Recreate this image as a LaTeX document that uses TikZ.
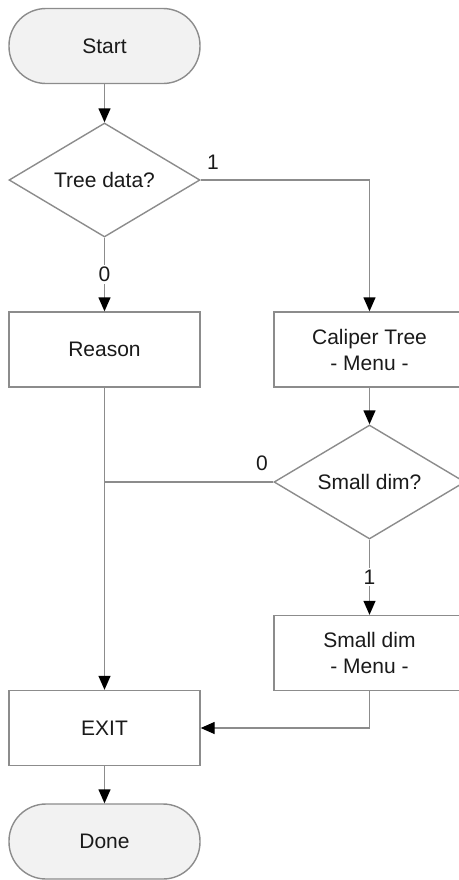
\documentclass[tikz,border=0pt]{standalone}
\usepackage{fontspec}
\setmainfont{Liberation Sans}
\usetikzlibrary{shapes.geometric,arrows.meta}
\definecolor{linegray}{HTML}{8C8C8C}
\definecolor{termfill}{HTML}{F2F2F2}
\definecolor{txt}{HTML}{1A1A1A}
\begin{document}
\begin{tikzpicture}[x=0.5pt,y=-0.5pt,
  every node/.style={font=\fontsize{10.5}{13}\selectfont, text=txt},
  terminal/.style={draw=linegray, line width=0.7pt, fill=termfill,
    rounded corners=18.5pt, minimum width=95.5pt, minimum height=37.5pt, inner sep=0pt},
  procbox/.style={draw=linegray, line width=0.7pt, fill=white,
    minimum width=95.5pt, minimum height=37.5pt, inner sep=0pt, align=center},
  decision/.style={draw=linegray, line width=0.7pt, fill=white, diamond, aspect=1.67,
    minimum width=95.5pt, minimum height=57pt, inner sep=0pt},
  conn/.style={draw=linegray, line width=0.7pt},
  flow/.style={conn, -{Triangle[length=7pt,width=6pt,color=black]}},
  branch/.style={fill=white, inner sep=1pt}]
  \useasboundingbox (0,0) rectangle (459,880);

  \node[terminal] (start) at (104.5,46) {Start};
  \node[decision] (tree) at (104.5,180) {Tree data?};
  \node[procbox] (reason) at (104.5,349.5) {Reason};
  \node[procbox] (caliper) at (369.5,349.5) {Caliper Tree\\- Menu -};
  \node[decision] (small) at (369.5,482) {Small dim?};
  \node[procbox] (smallmenu) at (369.5,653) {Small dim\\- Menu -};
  \node[procbox] (exit) at (104.5,728) {EXIT};
  \node[terminal] (done) at (104.5,841.5) {Done};

  \coordinate (join) at (reason.south |- small.west);

  \draw[flow] (start) -- (tree);
  \draw[flow] (tree.east) -- (caliper.north |- tree.east) -- (caliper.north);
  \node at (213,162) {1};
  \draw[flow] (tree.south) -- node[branch] {0} (reason.north);
  \draw[flow] (caliper) -- (small);
  \draw[flow] (small.south) -- node[branch] {1} (smallmenu.north);
  \draw[conn] (small.west) -- (join);
  \node at (262,463) {0};
  \draw[flow] (reason) -- (exit);
  \draw[flow] (smallmenu.south) |- (exit.east);
  \draw[flow] (exit) -- (done);
\end{tikzpicture}
\end{document}
